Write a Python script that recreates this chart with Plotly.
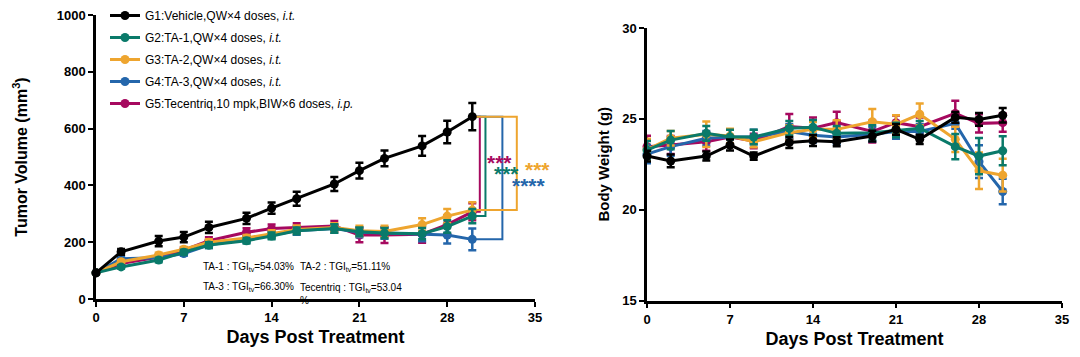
import plotly.graph_objects as go

# ---------------- data ----------------
days = [0, 2, 5, 7, 9, 12, 14, 16, 19, 21, 23, 26, 28, 30]

group_names = [
    "G1:Vehicle,QW×4 doses, <i>i.t.</i>",
    "G2:TA-1,QW×4 doses, <i>i.t.</i>",
    "G3:TA-2,QW×4 doses, <i>i.t.</i>",
    "G4:TA-3,QW×4 doses, <i>i.t.</i>",
    "G5:Tecentriq,10 mpk,BIW×6 doses, <i>i.p.</i>",
]
colors = ["#000000", "#0a7a6a", "#eea52f", "#2466ab", "#a6095f"]

# Tumor volume (mm3), mean and SEM
tv_g1 = [92, 166, 204, 218, 252, 284, 320, 353, 405, 452, 495, 539, 588, 642]
tv_g2 = [92, 113, 137, 165, 190, 205, 222, 240, 248, 237, 232, 230, 255, 292]
tv_g3 = [92, 131, 155, 175, 200, 215, 230, 245, 252, 240, 238, 262, 292, 313]
tv_g4 = [92, 142, 145, 160, 190, 210, 225, 240, 248, 235, 232, 228, 225, 210]
tv_g5 = [92, 125, 148, 172, 205, 235, 248, 252, 257, 225, 225, 228, 262, 307]
tv_g1_sem = [5, 10, 18, 18, 20, 20, 20, 25, 25, 28, 28, 35, 40, 48]
tv_g2_sem = [3, 6, 8, 8, 10, 10, 12, 12, 15, 15, 18, 20, 22, 25]
tv_g3_sem = [3, 6, 8, 8, 10, 10, 12, 14, 15, 18, 20, 22, 25, 28]
tv_g4_sem = [3, 8, 8, 8, 10, 12, 12, 14, 15, 18, 20, 25, 30, 38]
tv_g5_sem = [3, 6, 8, 10, 12, 14, 14, 15, 18, 25, 28, 30, 32, 30]

# Body weight (g), mean and SEM
bw_g1 = [22.95, 22.68, 22.95, 23.56, 22.95, 23.70, 23.80, 23.74, 24.05, 24.42, 23.87, 25.08, 24.97, 25.20]
bw_g2 = [23.28, 23.83, 24.20, 24.00, 24.00, 24.48, 24.53, 24.20, 24.24, 24.38, 24.48, 23.47, 22.95, 23.24]
bw_g3 = [23.30, 23.93, 24.15, 24.05, 23.74, 24.24, 24.42, 24.42, 24.84, 24.70, 25.25, 23.87, 22.14, 21.90]
bw_g4 = [23.06, 23.47, 23.93, 24.00, 24.00, 24.30, 24.10, 24.00, 24.15, 24.30, 24.30, 24.75, 22.64, 21.00]
bw_g5 = [23.47, 23.56, 23.74, 24.00, 23.78, 24.57, 24.48, 24.79, 24.30, 24.79, 24.57, 25.30, 24.75, 24.79]
bw_g1_sem = [0.30, 0.35, 0.25, 0.30, 0.20, 0.30, 0.30, 0.25, 0.30, 0.30, 0.25, 0.30, 0.35, 0.40]
bw_g2_sem = [0.50, 0.50, 0.40, 0.40, 0.40, 0.40, 0.40, 0.40, 0.40, 0.40, 0.40, 0.70, 1.00, 0.80]
bw_g3_sem = [0.60, 0.40, 0.70, 0.40, 0.30, 0.40, 0.40, 0.50, 0.70, 0.50, 0.60, 0.70, 1.00, 0.90]
bw_g4_sem = [0.50, 0.50, 0.40, 0.40, 0.40, 0.40, 0.40, 0.40, 0.40, 0.40, 0.40, 0.30, 0.90, 0.70]
bw_g5_sem = [0.60, 0.50, 0.50, 0.40, 0.40, 0.70, 0.60, 0.60, 0.60, 0.40, 0.50, 0.70, 0.50, 0.50]

x_ticks = [0, 7, 14, 21, 28, 35]
tv_ticks = [0, 200, 400, 600, 800, 1000]
bw_ticks = [15, 20, 25, 30]

# significance (group index, stars, bracket offset in days, star position)
sig_groups = [4, 1, 3, 2]
sig_stars = ["***", "***", "****", "***"]
bracket_offsets = [0.6, 1.05, 2.4, 3.55]
star_x = [32.2, 32.7, 34.5, 35.0]
star_shift = [0, 0, 0, 2]
star_y = [497, 458, 417, 472]

tgi_labels = ["TA-1 : TGI<sub>tv</sub>=54.03%", "TA-2 : TGI<sub>tv</sub>=51.11%",
              "TA-3 : TGI<sub>tv</sub>=66.30%", "Tecentriq : TGI<sub>tv</sub>=53.04<br>%"]
tgi_x = [8.4, 16.1, 8.4, 16.1]
tgi_y = [114, 114, 43, 43]

tv_means = [tv_g1, tv_g2, tv_g3, tv_g4, tv_g5]
tv_sems = [tv_g1_sem, tv_g2_sem, tv_g3_sem, tv_g4_sem, tv_g5_sem]
bw_means = [bw_g1, bw_g2, bw_g3, bw_g4, bw_g5]
bw_sems = [bw_g1_sem, bw_g2_sem, bw_g3_sem, bw_g4_sem, bw_g5_sem]

FONT = "Arial, Liberation Sans, sans-serif"
W, H = 1080, 357
OFF = 8  # page body margin offset


def px_x(p):
    return (p - OFF) / W


def px_y(p):
    return 1 - (p - OFF) / H


fig = go.Figure()

# brackets (left chart)
for gi, off in zip(sig_groups, bracket_offsets):
    xe = days[-1]
    xv = xe + off
    fig.add_trace(go.Scatter(
        x=[xe, xv, xv, xe], y=[tv_g1[-1], tv_g1[-1], tv_means[gi][-1], tv_means[gi][-1]],
        mode="lines", line=dict(color=colors[gi], width=2),
        showlegend=False, hoverinfo="skip", xaxis="x", yaxis="y", cliponaxis=False))

draw_order = [4, 3, 2, 1, 0]
for gi in draw_order:
    fig.add_trace(go.Scatter(
        x=days, y=tv_means[gi], name=group_names[gi], legendgroup=f"g{gi}",
        legendrank=gi + 1,
        mode="lines+markers", line=dict(color=colors[gi], width=3),
        marker=dict(color=colors[gi], size=9),
        error_y=dict(type="data", array=tv_sems[gi], color=colors[gi], thickness=2.5, width=4),
        xaxis="x", yaxis="y", cliponaxis=False))
for gi in draw_order:
    fig.add_trace(go.Scatter(
        x=days, y=bw_means[gi], name=group_names[gi], legendgroup=f"g{gi}",
        showlegend=False,
        mode="lines+markers", line=dict(color=colors[gi], width=3),
        marker=dict(color=colors[gi], size=9),
        error_y=dict(type="data", array=bw_sems[gi], color=colors[gi], thickness=2.5, width=4),
        xaxis="x2", yaxis="y2", cliponaxis=False))

annotations = []
for gi, s, sx, sy, sh in zip(sig_groups, sig_stars, star_x, star_y, star_shift):
    annotations.append(dict(x=sx, y=sy, xref="x", yref="y", text=s, showarrow=False,
                            font=dict(family=FONT, size=21, color=colors[gi], weight="bold"),
                            xanchor="center", yanchor="middle", yshift=-5, xshift=sh))
for t, tx, ty in zip(tgi_labels, tgi_x, tgi_y):
    annotations.append(dict(x=tx, y=ty, xref="x", yref="y", text=t, showarrow=False,
                            font=dict(family=FONT, size=10, color="#000000"),
                            xanchor="left", yanchor="top" if "<br>" in t else "middle",
                            yshift=7 if "<br>" in t else 0, align="left"))

axis_common = dict(
    showline=True, linecolor="black", linewidth=2.5, ticks="outside", ticklen=5,
    tickwidth=2, tickcolor="black", showgrid=False, zeroline=False,
    tickfont=dict(family=FONT, size=13, color="black", weight="bold"),
    mirror=False, automargin=False, ticklabeloverflow="allow",
)

fig.update_layout(
    width=W, height=H,
    margin=dict(l=0, r=0, t=0, b=0, autoexpand=False),
    paper_bgcolor="white", plot_bgcolor="white",
    font=dict(family=FONT, color="black"),
    xaxis=dict(domain=[px_x(96), px_x(535)], range=[0, 35], tickvals=x_ticks, anchor="y",
               title=dict(text="Days Post Treatment", standoff=7,
                          font=dict(family=FONT, size=18, weight="bold")),
               **axis_common),
    yaxis=dict(domain=[px_y(299), px_y(15)], range=[0, 1000], tickvals=tv_ticks, anchor="x",
               title=dict(text="Tumor Volume (mm<sup>3</sup>)", standoff=26,
                          font=dict(family=FONT, size=16, weight="bold")),
               **axis_common),
    xaxis2=dict(domain=[px_x(647), px_x(1062)], range=[0, 35], tickvals=x_ticks, anchor="y2",
                title=dict(text="Days Post Treatment", standoff=7,
                           font=dict(family=FONT, size=18, weight="bold")),
                **axis_common),
    yaxis2=dict(domain=[px_y(300.5), px_y(28)], range=[15, 30], tickvals=bw_ticks, anchor="x2",
                title=dict(text="Body Weight (g)", standoff=9,
                           font=dict(family=FONT, size=15, weight="bold")),
                **axis_common),
    legend=dict(x=px_x(105), y=px_y(1), xanchor="left", yanchor="top",
                font=dict(family=FONT, size=12, color="black"),
                bgcolor="rgba(0,0,0,0)", tracegroupgap=3, itemwidth=30),
    annotations=annotations,
    showlegend=True,
)

fig.write_html("out.html")
